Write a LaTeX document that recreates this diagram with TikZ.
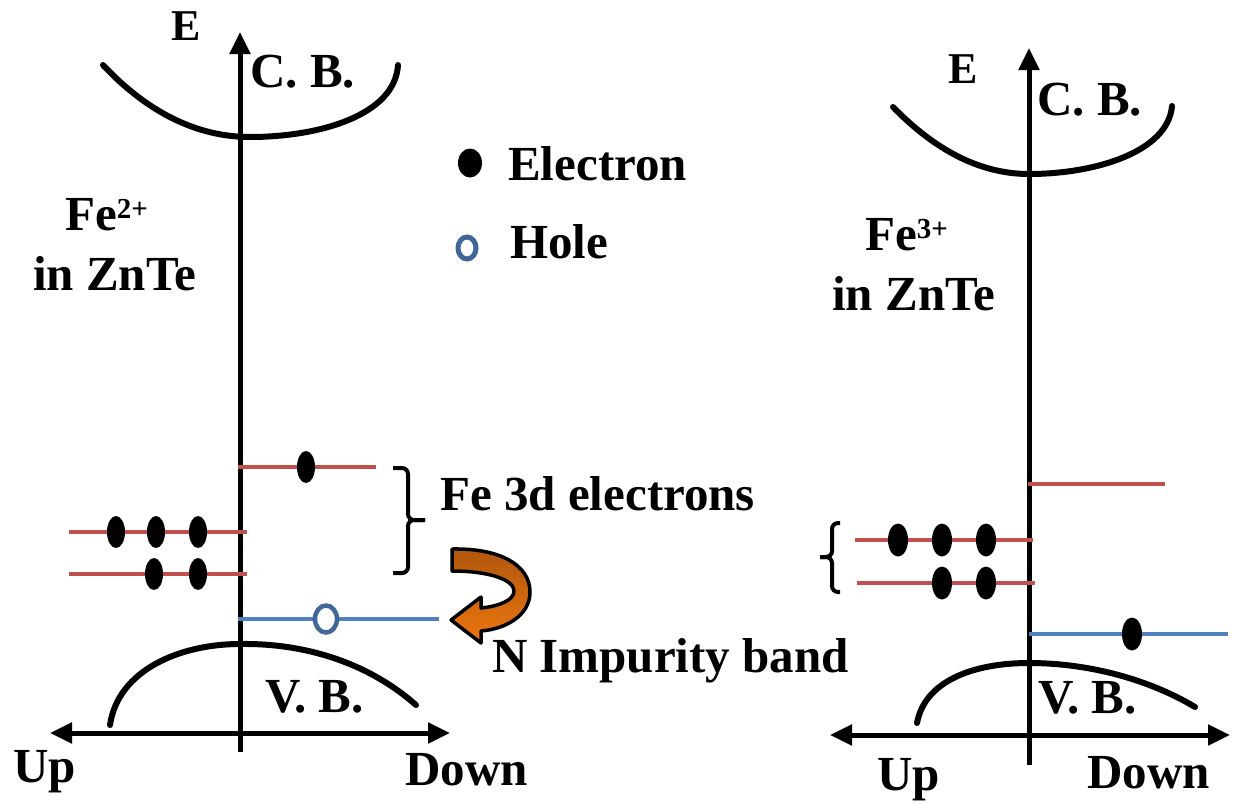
\documentclass[tikz,border=0pt]{standalone}
\usepackage{fontspec}
\setmainfont{Liberation Serif}
\usetikzlibrary{arrows.meta,shapes.geometric}
\definecolor{lvred}{HTML}{C0504D}
\definecolor{lvblue}{HTML}{4F81BD}
\definecolor{holeblue}{HTML}{41679A}
\definecolor{ortop}{HTML}{B0560E}
\definecolor{orbot}{HTML}{EC760E}
\tikzset{
  lbl/.style={font=\fontsize{49}{58}\selectfont\bfseries, inner sep=0pt, anchor=base west},
  elbl/.style={font=\fontsize{44}{48}\selectfont\bfseries, inner sep=0pt, anchor=base},
  axis/.style={line width=5pt, {Triangle[length=22pt,width=20pt]}-{Triangle[length=22pt,width=20pt]}},
  axisup/.style={line width=5pt, -{Triangle[length=22pt,width=20pt]}},
  band/.style={line width=6pt, line cap=round},
  lvl/.style={line width=4.5pt, lvred},
  ilvl/.style={line width=4.5pt, lvblue},
  elec/.style={ellipse, fill=black, inner sep=0pt, minimum width=18pt, minimum height=32pt},
  hole/.style={ellipse, draw=holeblue, fill=white, line width=4.5pt, inner sep=0pt, minimum width=22pt, minimum height=27pt},
  bracestyle/.style={line width=4pt, rounded corners=6pt},
}
\begin{document}
\begin{tikzpicture}[x=1pt,y=-1pt]
\useasboundingbox (0,0) rectangle (1233,804);
% ---------- left panel ----------
\coordinate (La0) at (240,752);
\coordinate (La1) at (240,32);
\coordinate (Lh0) at (50,733);
\coordinate (Lh1) at (450,733);
\draw[band] (103,65) .. controls (150,115) and (200,137) .. (250,137) .. controls (320,137) and (395,115) .. (398,65);
\draw[band] (110,725) .. controls (118,670) and (180,644) .. (240,644) .. controls (300,643) and (365,660) .. (416,705);
\draw[axisup] (La0) -- (La1);
\draw[axis] (Lh0) -- (Lh1);
\node[elbl] (LE) at (186,40) {E};
\node[lbl] (LCB) at (250,87) {C. B.};
\node[lbl] (LFe) at (65,230) {Fe\raisebox{12pt}{\fontsize{29}{30}\selectfont 2+}};
\node[lbl] (LZn) at (33,290) {in ZnTe};
\node[lbl] (LVB) at (265,712) {V. B.};
\node[lbl] (LUp) at (13,782) {Up};
\node[lbl] (LDown) at (405,785) {Down};
% levels
\coordinate (L1a) at (238,467); \coordinate (L1b) at (376,467);
\coordinate (L2a) at (69,532);  \coordinate (L2b) at (247,532);
\coordinate (L3a) at (69,574);  \coordinate (L3b) at (247,574);
\coordinate (L4a) at (238,619); \coordinate (L4b) at (439,619);
\draw[lvl] (L1a) -- (L1b);
\draw[lvl] (L2a) -- (L2b);
\draw[lvl] (L3a) -- (L3b);
\draw[ilvl] (L4a) -- (L4b);
\node[elec] (e1) at (306,467) {};
\node[elec] (e2) at (116,532) {};
\node[elec] (e3) at (156,532) {};
\node[elec] (e4) at (198,532) {};
\node[elec] (e5) at (154,574) {};
\node[elec] (e6) at (198,574) {};
\node[hole] (h1) at (326,619) {};
% brace
\draw[bracestyle] (393,468) -- (408,468) -- (408,520) -- (425,520);
\draw[bracestyle] (425,520) -- (408,520) -- (408,573) -- (393,573);
\node[lbl] (Fe3d) at (440,510) {Fe 3d electrons};
% orange curved arrow
\path[draw=black, line width=3.5pt, line join=round, top color=ortop, bottom color=orbot]
  (452,549) .. controls (500,548) and (530,565) .. (530,592)
  .. controls (530,616) and (505,629) .. (481,631)
  -- (481,643) -- (451,620) -- (481,597) -- (481,608)
  .. controls (500,606) and (514,600) .. (514,591)
  .. controls (514,580) and (490,571) .. (452,571) -- cycle;
\node[lbl] (NImp) at (492,672) {N Impurity band};
% legend
\node[elec, minimum width=24pt, minimum height=29pt] (le) at (470,163) {};
\node[lbl] (lEl) at (508,180) {Electron};
\node[hole, minimum width=18pt, minimum height=22pt, line width=5pt] (lh) at (467,248) {};
\node[lbl] (lHo) at (510,258) {Hole};
% ---------- right panel ----------
\coordinate (Ra0) at (1029,765);
\coordinate (Ra1) at (1029,48);
\coordinate (Rh0) at (830,735);
\coordinate (Rh1) at (1230,735);
\draw[band] (893,107) .. controls (935,150) and (980,174) .. (1029,174) .. controls (1095,174) and (1168,152) .. (1172,106);
\draw[band] (917,723) .. controls (925,680) and (975,663) .. (1029,663) .. controls (1090,663) and (1150,680) .. (1195,707);
\draw[axisup] (Ra0) -- (Ra1);
\draw[axis] (Rh0) -- (Rh1);
\node[elbl] (RE) at (963,83) {E};
\node[lbl] (RCB) at (1037,115) {C. B.};
\node[lbl] (RFe) at (865,250) {Fe\raisebox{12pt}{\fontsize{29}{30}\selectfont 3+}};
\node[lbl] (RZn) at (832,310) {in ZnTe};
\node[lbl] (RVB) at (1038,713) {V. B.};
\node[lbl] (RUp) at (877,790) {Up};
\node[lbl] (RDown) at (1087,788) {Down};
\coordinate (R1a) at (1028,484); \coordinate (R1b) at (1165,484);
\coordinate (R2a) at (855,540);  \coordinate (R2b) at (1033,540);
\coordinate (R3a) at (857,583);  \coordinate (R3b) at (1035,583);
\coordinate (R4a) at (1029,634); \coordinate (R4b) at (1228,634);
\draw[lvl] (R1a) -- (R1b);
\draw[lvl] (R2a) -- (R2b);
\draw[lvl] (R3a) -- (R3b);
\draw[ilvl] (R4a) -- (R4b);
\node[elec, minimum width=20pt, minimum height=33pt] (r1) at (898,540) {};
\node[elec, minimum width=20pt, minimum height=33pt] (r2) at (942,540) {};
\node[elec, minimum width=20pt, minimum height=33pt] (r3) at (986,540) {};
\node[elec, minimum width=20pt, minimum height=33pt] (r4) at (942,583) {};
\node[elec, minimum width=20pt, minimum height=33pt] (r5) at (986,583) {};
\node[elec, minimum width=20pt, minimum height=33pt] (r6) at (1132,634) {};
\draw[bracestyle] (840,523) -- (832,523) -- (832,557) -- (820,557);
\draw[bracestyle] (820,557) -- (832,557) -- (832,592) -- (840,592);
\end{tikzpicture}
\end{document}
